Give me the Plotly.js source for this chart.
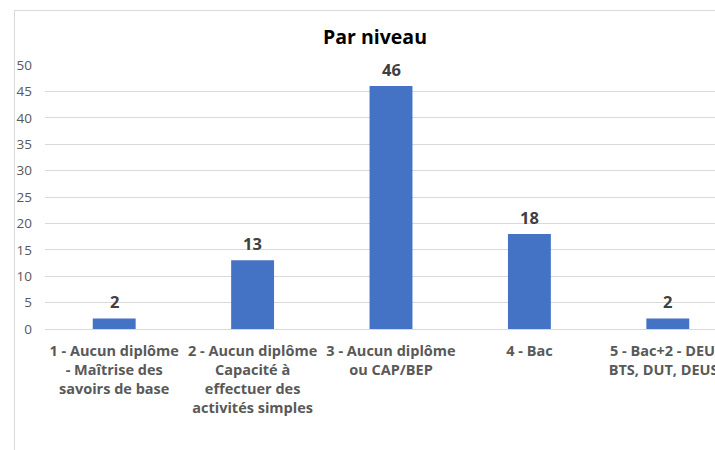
<!DOCTYPE html>
<html><head><meta charset="utf-8">
<script src="https://cdn.plot.ly/plotly-3.0.1.min.js"></script>
<style>
html,body{margin:0;padding:0;overflow:hidden;width:715px;height:450px;background:#fff;}
#chart{position:absolute;left:14px;top:10px;width:760px;height:480px;border-left:1px solid #d9d9d9;border-top:1px solid #d9d9d9;}
</style></head>
<body><div id="chart"></div>
<script>
const categories = [
  "1 - Aucun diplôme<br>- Maîtrise des<br>savoirs de base",
  "2 - Aucun diplôme<br>Capacité à<br>effectuer des<br>activités simples",
  "3 - Aucun diplôme<br>ou CAP/BEP",
  "4 - Bac",
  "5 - Bac+2 - DEUG<br>BTS, DUT, DEUST"
];
const values = [2, 13, 46, 18, 2];
const yTicks = [0, 5, 10, 15, 20, 25, 30, 35, 40, 45, 50];
const titleText = "Par niveau";

const font = "'Open Sans', 'Noto Sans', sans-serif";
const trace = {
  type: 'bar', x: categories, y: values,
  marker: {color: '#4472C4'}, hoverinfo: 'none'
};
const annotations = values.map((v, i) => ({
  x: categories[i], y: v, xref: 'x', yref: 'y', text: '<b>' + v + '</b>',
  showarrow: false, yanchor: 'bottom', yshift: 3,
  font: {family: font, size: 16.5, color: '#404040'}
}));
const layout = {
  width: 760, height: 480,
  margin: {l: 30, r: 37.5, t: 54, b: 162},
  paper_bgcolor: '#fff', plot_bgcolor: '#fff',
  showlegend: false, bargap: 0.69,
  title: {text: '<b>' + titleText + '</b>', x: 0.4737, xref: 'container', xanchor: 'center',
          y: 0.946, yref: 'container', yanchor: 'middle',
          font: {family: font, size: 19.5, color: '#000'}},
  xaxis: {type: 'category', tickfont: {family: font, size: 14.5, color: '#595959', weight: 'bold'},
          showgrid: false, showline: true, linecolor: '#d9d9d9', ticks: '', ticklabelstandoff: 9},
  yaxis: {range: [0, 50], tickvals: yTicks, ticktext: yTicks.map(String),
          tickfont: {family: font, size: 13.5, color: '#595959'},
          showgrid: true, gridcolor: '#d9d9d9', gridwidth: 1, zeroline: false,
          showline: false, ticks: '', ticklabelstandoff: 12},
  annotations: annotations
};
Plotly.newPlot('chart', [trace], layout, {displayModeBar: false, staticPlot: true});
</script></body></html>
